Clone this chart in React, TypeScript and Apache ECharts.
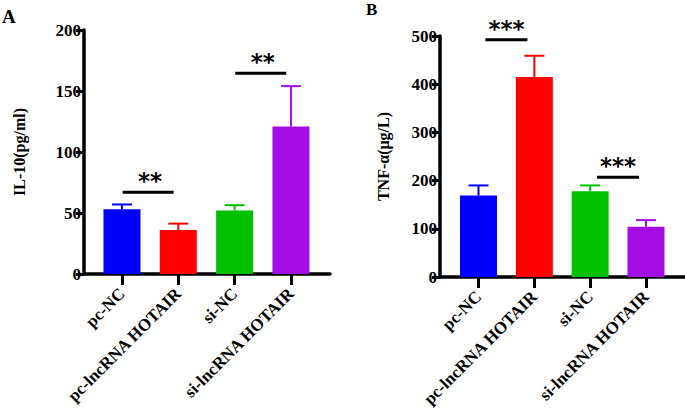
import React, { useEffect, useRef } from "react";
import * as echarts from "echarts";

const categories = ["pc-NC", "pc-lncRNA HOTAIR", "si-NC", "si-lncRNA HOTAIR"];
const barColors = ["#0000FF", "#FF0000", "#00C000", "#A40DE3"];

const il10Mean = [53, 36, 52, 121];
const il10Upper = [57, 41.3, 56.4, 154];
const il10Sig: [number, number, number, string][] = [
  [0, 1, 67, "**"],
  [2, 3, 164.5, "**"],
];
const il10Max = 200;
const il10Interval = 50;

const tnfMean = [169, 415, 178, 104];
const tnfUpper = [190, 459, 190, 118];
const tnfSig: [number, number, number, string][] = [
  [0, 1, 492, "***"],
  [2, 3, 207, "***"],
];
const tnfMax = 500;
const tnfInterval = 100;

const SERIF = "'Liberation Serif', 'Times New Roman', serif";

function frameAxes(gridIndex: number, max: number, interval: number, name: string, nameGap: number) {
  const x = {
    gridIndex,
    type: "value",
    min: 0,
    max: 1,
    axisLine: { show: true, lineStyle: { color: "#000", width: 3.5 } },
    axisTick: { show: false },
    axisLabel: { show: false },
    splitLine: { show: false },
  };
  const y = {
    gridIndex,
    type: "value",
    min: 0,
    max,
    interval,
    name,
    nameLocation: "middle",
    nameGap,
    nameTextStyle: { fontFamily: SERIF, fontWeight: "bold", fontSize: 16, color: "#000" },
    axisLine: { show: true, lineStyle: { color: "#000", width: 3.5 } },
    axisTick: { show: true, length: 8, lineStyle: { color: "#000", width: 3 } },
    axisLabel: { fontFamily: SERIF, fontWeight: "bold", fontSize: 17, color: "#000", margin: 3 },
    splitLine: { show: false },
  };
  return { x, y };
}

function barAxes(gridIndex: number, max: number) {
  const x = {
    gridIndex,
    type: "category",
    data: categories,
    axisLine: { show: false },
    axisTick: { show: true, alignWithLabel: true, length: 11, lineStyle: { color: "#000", width: 3 } },
    axisLabel: {
      interval: 0,
      rotate: 45,
      margin: 17,
      fontFamily: SERIF,
      fontWeight: "bold",
      fontSize: 17,
      color: "#000",
    },
    splitLine: { show: false },
  };
  const y = { gridIndex, type: "value", min: 0, max, show: false };
  return { x, y };
}

function errorSeries(axisIndex: number, mean: number[], upper: number[]) {
  return {
    type: "custom",
    xAxisIndex: axisIndex,
    yAxisIndex: axisIndex,
    z: 5,
    data: mean.map((m, i) => [i, m, upper[i]]),
    renderItem: (params: any, api: any) => {
      const i = api.value(0);
      const p0 = api.coord([i, api.value(1)]);
      const p1 = api.coord([i, api.value(2)]);
      const color = barColors[i];
      return {
        type: "group",
        children: [
          { type: "line", shape: { x1: p0[0], y1: p0[1], x2: p1[0], y2: p1[1] }, style: { stroke: color, lineWidth: 2 } },
          { type: "line", shape: { x1: p1[0] - 10, y1: p1[1], x2: p1[0] + 10, y2: p1[1] }, style: { stroke: color, lineWidth: 2 } },
        ],
      };
    },
  };
}

function sigSeries(axisIndex: number, sig: [number, number, number, string][], halfWidth: number, shift: number) {
  return {
    type: "custom",
    xAxisIndex: axisIndex,
    yAxisIndex: axisIndex,
    z: 6,
    data: sig,
    renderItem: (params: any, api: any) => {
      const a = api.coord([api.value(0), api.value(2)]);
      const b = api.coord([api.value(1), api.value(2)]);
      const mid = (a[0] + b[0]) / 2;
      const cx = mid + shift;
      const label = sig[params.dataIndex][3];
      return {
        type: "group",
        children: [
          { type: "line", shape: { x1: cx - halfWidth, y1: a[1], x2: cx + halfWidth, y2: a[1] }, style: { stroke: "#000", lineWidth: 3 } },
          {
            type: "text",
            x: mid,
            y: a[1] - 11,
            style: {
              text: label,
              fontFamily: "'DejaVu Sans', sans-serif",
              fontWeight: "bold",
              fontSize: 23,
              fill: "#000",
              textAlign: "center",
              textVerticalAlign: "middle",
            },
          },
        ],
      };
    },
  };
}

export default function App() {
  const ref = useRef<HTMLDivElement>(null);
  useEffect(() => {
    if (!ref.current) return;
    const chart = echarts.init(ref.current, null, { renderer: "svg" });
    const fA = frameAxes(0, il10Max, il10Interval, "IL-10(pg/ml)", 57);
    const bA = barAxes(1, il10Max);
    const fB = frameAxes(2, tnfMax, tnfInterval, "TNF-α(μg/L)", 49);
    const bB = barAxes(3, tnfMax);
    chart.setOption({
      animation: false,
      backgroundColor: "#fff",
      title: [
        { text: "A", left: 2, top: 7, padding: 0, textStyle: { fontFamily: SERIF, fontWeight: "bold", fontSize: 19, color: "#000" } },
        { text: "B", left: 366, top: 1, padding: 0, textStyle: { fontFamily: SERIF, fontWeight: "bold", fontSize: 17, color: "#000" } },
      ],
      grid: [
        { left: 84, top: 30, width: 246, height: 244 },
        { left: 93.8, top: 30, width: 225.3, height: 244 },
        { left: 440, top: 36, width: 245, height: 241 },
        { left: 450.6, top: 36, width: 223.3, height: 241 },
      ],
      xAxis: [fA.x, bA.x, fB.x, bB.x],
      yAxis: [fA.y, bA.y, fB.y, bB.y],
      series: [
        {
          type: "bar",
          xAxisIndex: 1,
          yAxisIndex: 1,
          barWidth: 37,
          data: il10Mean.map((v, i) => ({ value: v, itemStyle: { color: barColors[i] } })),
        },
        errorSeries(1, il10Mean, il10Upper),
        sigSeries(1, il10Sig, 25.5, -2),
        {
          type: "bar",
          xAxisIndex: 3,
          yAxisIndex: 3,
          barWidth: 37,
          data: tnfMean.map((v, i) => ({ value: v, itemStyle: { color: barColors[i] } })),
        },
        errorSeries(3, tnfMean, tnfUpper),
        sigSeries(3, tnfSig, 21, 0),
      ],
    });
    return () => chart.dispose();
  }, []);
  return <div ref={ref} style={{ position: "fixed", left: 0, top: 0, width: 685, height: 415 }} />;
}
